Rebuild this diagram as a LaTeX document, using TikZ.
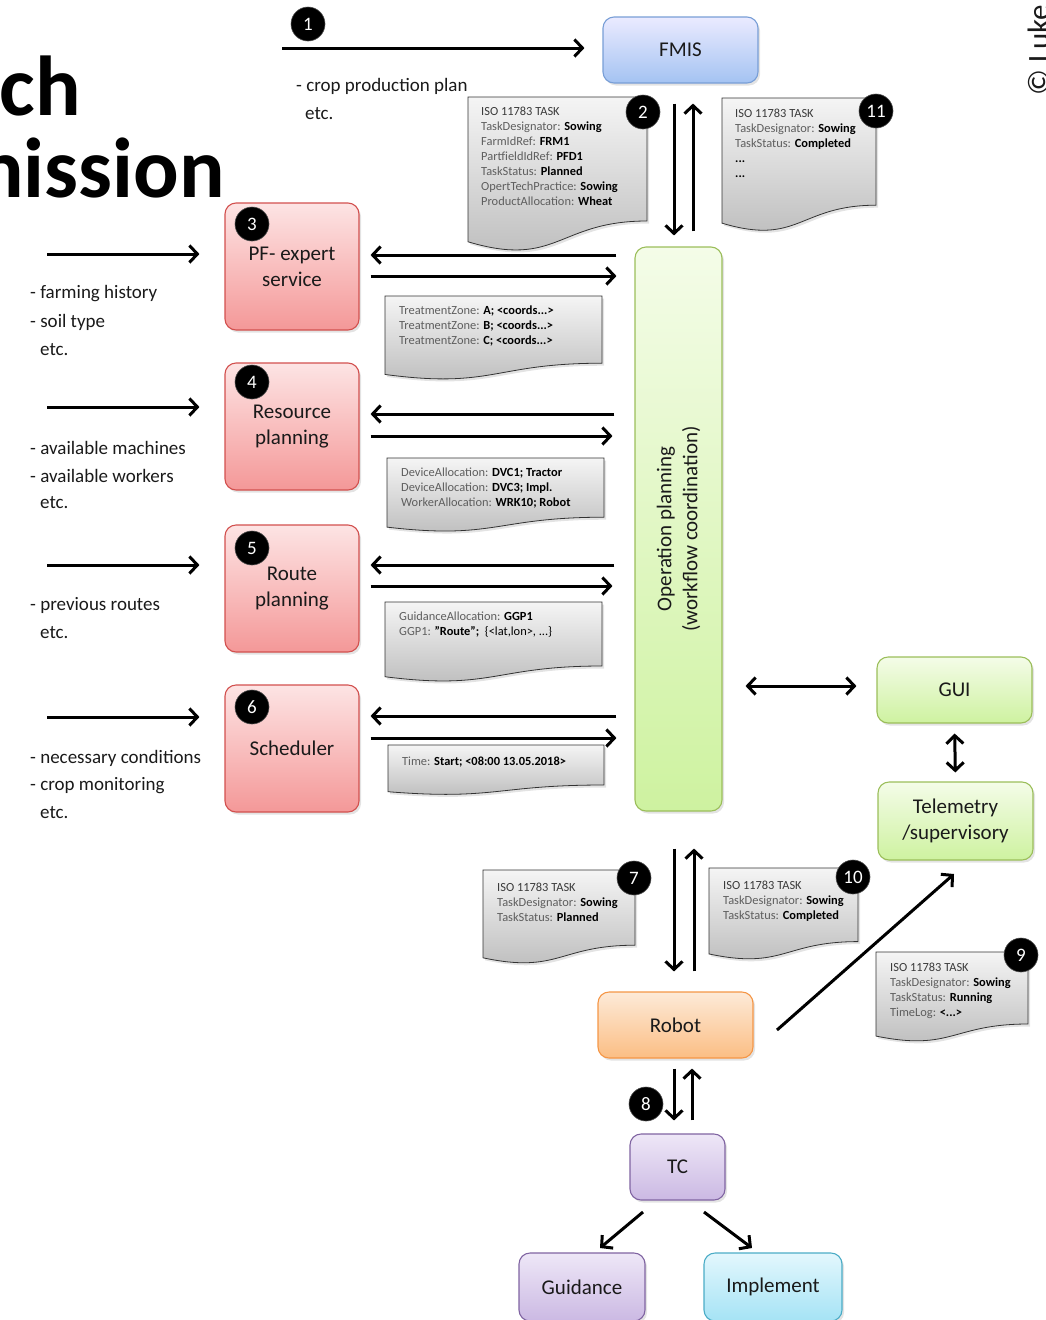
\documentclass[tikz,border=0pt]{standalone}
\usepackage{fontspec}
\setmainfont{Carlito}
\usetikzlibrary{arrows.meta,shadows,calc}
\definecolor{keyg}{HTML}{5E5E5E}
\definecolor{isog}{HTML}{3A3A3A}
\definecolor{txt}{HTML}{1A1A1A}
\newcommand\kv[2]{{\color{keyg}#1: }\textbf{#2}}
\newcommand\isohead{{\color{isog}ISO 11783 TASK}}
\newcommand\docshape[4]{%
  \pgfmathsetmacro\dxm{(#1+#3)/2}%
  \pgfmathsetmacro\dyr{#2+0.80*#4}%
  \pgfmathsetmacro\dyc{#2+1.107*#4}%
  \pgfmathsetmacro\dyl{#2+0.934*#4}%
  \shade[docfill] (#1,#2) -- (#3,#2) -- (#3,\dyr) .. controls (\dxm,\dyr) and (\dxm,\dyc) .. (#1,\dyl) -- cycle;%
}
\tikzset{
  arr/.style={line width=3pt, -{Straight Barb[length=8pt,width=17pt]}},
  darr/.style={line width=3pt, {Straight Barb[length=8pt,width=17pt]}-{Straight Barb[length=8pt,width=17pt]}},
  shad/.style={drop shadow={shadow xshift=2pt,shadow yshift=-2.5pt,opacity=0.22}},
  box/.style={draw, rounded corners=11pt, line width=1.1pt, align=center, inner sep=0pt,
    font=\fontsize{21}{26}\selectfont, text=txt, shad},
  bluebox/.style={box, top color=blue!8!white, bottom color={rgb,255:red,164;green,195;blue,242}, draw={rgb,255:red,120;green,158;blue,214}},
  redbox/.style={box, top color={rgb,255:red,253;green,228;blue,228}, bottom color={rgb,255:red,244;green,152;blue,152}, draw={rgb,255:red,210;green,80;blue,78}},
  greenbox/.style={box, top color={rgb,255:red,244;green,252;blue,232}, bottom color={rgb,255:red,206;green,242;blue,160}, draw={rgb,255:red,155;green,190;blue,90}},
  orangebox/.style={box, top color={rgb,255:red,253;green,234;blue,216}, bottom color={rgb,255:red,251;green,190;blue,132}, draw={rgb,255:red,245;green,150;blue,70}},
  purplebox/.style={box, top color={rgb,255:red,238;green,231;blue,247}, bottom color={rgb,255:red,203;green,185;blue,227}, draw={rgb,255:red,128;green,100;blue,162}},
  cyanbox/.style={box, top color={rgb,255:red,227;green,247;blue,253}, bottom color={rgb,255:red,165;green,227;blue,245}, draw={rgb,255:red,75;green,172;blue,198}},
  docfill/.style={top color=black!4, bottom color=black!27, draw=black!80, line width=0.8pt, shad},
  doctext/.style={anchor=north west, align=left, inner sep=0pt, font=\fontsize{12.4}{15}\selectfont, text=black},
  num/.style={circle, fill=black, text=white, minimum size=34pt, inner sep=0pt, font=\fontsize{19}{19}\selectfont, draw=black!70, line width=0.6pt},
  lbl/.style={anchor=west, inner sep=0pt, align=left, font=\fontsize{19}{28}\selectfont, text=txt},
}
\begin{document}
\begin{tikzpicture}[x=1pt,y=-1pt]
\useasboundingbox (0,0) rectangle (1045,1320);

% title fragments and copyright
\node[anchor=base east, inner sep=0pt, font=\fontsize{85}{85}\selectfont\bfseries] (t1) at (81,115) {ch};
\node[anchor=base east, inner sep=0pt, font=\fontsize{85}{85}\selectfont\bfseries] (t2) at (225,197) {nission};
\node[rotate=90, anchor=base west, inner sep=0pt, font=\fontsize{31}{31}\selectfont, text=txt] (copy) at (1049,96) {© Luke};

% boxes
\node[bluebox, minimum width=155pt, minimum height=66pt] (fmis) at (680.5,50) {FMIS};
\node[greenbox, minimum width=87pt, minimum height=564pt] (op) at (678.5,529) {};
\node[rotate=90, align=center, font=\fontsize{21}{26}\selectfont, text=txt] (optext) at (op.center) {Operation planning\\(workflow coordination)};
\node[redbox, minimum width=134pt, minimum height=127pt] (pf) at (292,266.5) {PF- expert\\service};
\node[redbox, minimum width=134pt, minimum height=127pt] (res) at (292,426.5) {Resource\\planning};
\node[redbox, minimum width=134pt, minimum height=127pt] (route) at (292,588.5) {Route\\planning};
\node[redbox, minimum width=134pt, minimum height=127pt] (sched) at (292,748.5) {Scheduler};
\node[greenbox, minimum width=155pt, minimum height=66pt] (gui) at (954.5,690) {GUI};
\node[greenbox, minimum width=155pt, minimum height=78pt] (tele) at (955.5,821) {Telemetry\\/supervisory};
\node[orangebox, minimum width=155pt, minimum height=66pt] (robot) at (675.5,1025) {Robot};
\node[purplebox, minimum width=95pt, minimum height=66pt] (tc) at (677.5,1167) {TC};
\node[purplebox, minimum width=126pt, minimum height=68pt] (guid) at (582,1287) {Guidance};
\node[cyanbox, minimum width=138pt, minimum height=68pt] (impl) at (773,1287) {Implement};

% documents
\docshape{468}{97}{647}{155}
\node[doctext] (d2) at (481,107) {\isohead\\\kv{TaskDesignator}{Sowing}\\\kv{FarmIdRef}{FRM1}\\\kv{PartfieldIdRef}{PFD1}\\\kv{TaskStatus}{Planned}\\\kv{OpertTechPractice}{Sowing}\\\kv{ProductAllocation}{Wheat}};
\docshape{722}{98}{876}{134}
\node[doctext] (d11) at (735,109) {\isohead\\\kv{TaskDesignator}{Sowing}\\\kv{TaskStatus}{Completed}\\\textbf{...}\\\textbf{...}};
\docshape{385}{296}{602}{84}
\node[doctext] (dtz) at (399,306) {\kv{TreatmentZone}{A; <coords...>}\\\kv{TreatmentZone}{B; <coords...>}\\\kv{TreatmentZone}{C; <coords...>}};
\docshape{387}{458}{604}{74}
\node[doctext] (ddev) at (401,468) {\kv{DeviceAllocation}{DVC1; Tractor}\\\kv{DeviceAllocation}{DVC3; Impl.}\\\kv{WorkerAllocation}{WRK10; Robot}};
\docshape{385}{602}{602}{80}
\node[doctext] (dgd) at (399,612) {\kv{GuidanceAllocation}{GGP1}\\{\color{keyg}GGP1: }\textbf{”Route”;}~ \{<lat,lon>, ...\}};
\docshape{388}{745}{604}{50}
\node[doctext] (dtm) at (402,757) {\kv{Time}{Start; <08:00 13.05.2018>}};
\docshape{483}{870}{635}{94}
\node[doctext] (d7) at (497,883) {\isohead\\\kv{TaskDesignator}{Sowing}\\\kv{TaskStatus}{Planned}};
\docshape{709}{868}{858}{92}
\node[doctext] (d10) at (723,881) {\isohead\\\kv{TaskDesignator}{Sowing}\\\kv{TaskStatus}{Completed}};
\docshape{876}{952}{1028}{90}
\node[doctext] (d9) at (890,963) {\isohead\\\kv{TaskDesignator}{Sowing}\\\kv{TaskStatus}{Running}\\\kv{TimeLog}{<...>}};

% input labels
\node[lbl] (l1) at (296,86) {- crop production plan};
\node[lbl] (l1b) at (305,114) {etc.};
\node[lbl] (l3) at (30,294) {- farming history};
\node[lbl] (l3b) at (30,322) {- soil type};
\node[lbl] (l3c) at (40,350) {etc.};
\node[lbl] (l4) at (30,448) {- available machines};
\node[lbl] (l4b) at (30,476) {- available workers};
\node[lbl] (l4c) at (40,503) {etc.};
\node[lbl] (l5) at (30,605) {- previous routes};
\node[lbl] (l5b) at (40,633) {etc.};
\node[lbl] (l6) at (30,758) {- necessary conditions};
\node[lbl] (l6b) at (30,786) {- crop monitoring};
\node[lbl] (l6c) at (40,813) {etc.};

% helper coordinates
\coordinate (xa) at (674,0);
\coordinate (xb) at (693,0);
\coordinate (xc) at (694,0);
\coordinate (xd) at (692,0);
\coordinate (i1) at (282,48);
\coordinate (i3) at (47,254);
\coordinate (i4) at (47,407);
\coordinate (i5) at (47,565);
\coordinate (i6) at (47,717);
\coordinate (r3a) at (0,255); \coordinate (r3b) at (0,276);
\coordinate (r4a) at (0,414); \coordinate (r4b) at (0,436);
\coordinate (r5a) at (0,565); \coordinate (r5b) at (0,586);
\coordinate (r6a) at (0,716); \coordinate (r6b) at (0,738);
\coordinate (rg) at (0,686);
\coordinate (ds) at (777,1030);
\coordinate (de) at (954,874);
\coordinate (g1) at (643,1212);
\coordinate (g2) at (600,1248);
\coordinate (m1) at (704,1212);
\coordinate (m2) at (752,1248);

% connectors
\draw[arr, shorten >=18pt] (i1) -- (i1 -| fmis.west);
\draw[arr, shorten <=20pt, shorten >=11pt] (fmis.south -| xa) -- (op.north -| xa);
\draw[arr, shorten <=15pt, shorten >=20pt] (op.north -| xb) -- (fmis.south -| xb);

\draw[arr, shorten >=25pt] (i3) -- (i3 -| pf.west);
\draw[arr, shorten >=25pt] (i4) -- (i4 -| res.west);
\draw[arr, shorten >=25pt] (i5) -- (i5 -| route.west);
\draw[arr, shorten >=25pt] (i6) -- (i6 -| sched.west);

\draw[arr, shorten <=18pt, shorten >=11pt] (op.west |- r3a) -- (pf.east |- r3a);
\draw[arr, shorten <=11pt, shorten >=18pt] (pf.east |- r3b) -- (op.west |- r3b);
\draw[arr, shorten <=20pt, shorten >=11pt] (op.west |- r4a) -- (res.east |- r4a);
\draw[arr, shorten <=11pt, shorten >=22pt] (res.east |- r4b) -- (op.west |- r4b);
\draw[arr, shorten <=20pt, shorten >=11pt] (op.west |- r5a) -- (route.east |- r5a);
\draw[arr, shorten <=11pt, shorten >=22pt] (route.east |- r5b) -- (op.west |- r5b);
\draw[arr, shorten <=18pt, shorten >=11pt] (op.west |- r6a) -- (sched.east |- r6a);
\draw[arr, shorten <=11pt, shorten >=18pt] (sched.east |- r6b) -- (op.west |- r6b);

\draw[darr, shorten <=23pt, shorten >=20pt] (op.east |- rg) -- (gui.west |- rg);
\draw[darr, shorten <=10pt, shorten >=9pt] (gui.south) -- (tele.north);

\draw[arr, shorten <=37pt, shorten >=20pt] (op.south -| xa) -- (robot.north -| xa);
\draw[arr, shorten <=20pt, shorten >=37pt] (robot.north -| xc) -- (op.south -| xc);
\draw[arr] (ds) -- (de);
\draw[arr, shorten <=10pt, shorten >=13pt] (robot.south -| xa) -- (tc.north -| xa);
\draw[arr, shorten <=13pt, shorten >=10pt] (tc.north -| xd) -- (robot.south -| xd);
\draw[arr] (g1) -- (g2);
\draw[arr] (m1) -- (m2);

% numbered markers
\node[num] (n1) at (308,24) {1};
\node[num] (n2) at (643,112) {2};
\node[num] (n11) at (876,111) {11};
\node[num] (n3) at (252,224) {3};
\node[num] (n4) at (252,382) {4};
\node[num] (n5) at (252,548) {5};
\node[num] (n6) at (252,707) {6};
\node[num] (n7) at (634,878) {7};
\node[num] (n10) at (853,877) {10};
\node[num] (n9) at (1021,955) {9};
\node[num] (n8) at (646,1104) {8};
\end{tikzpicture}
\end{document}
